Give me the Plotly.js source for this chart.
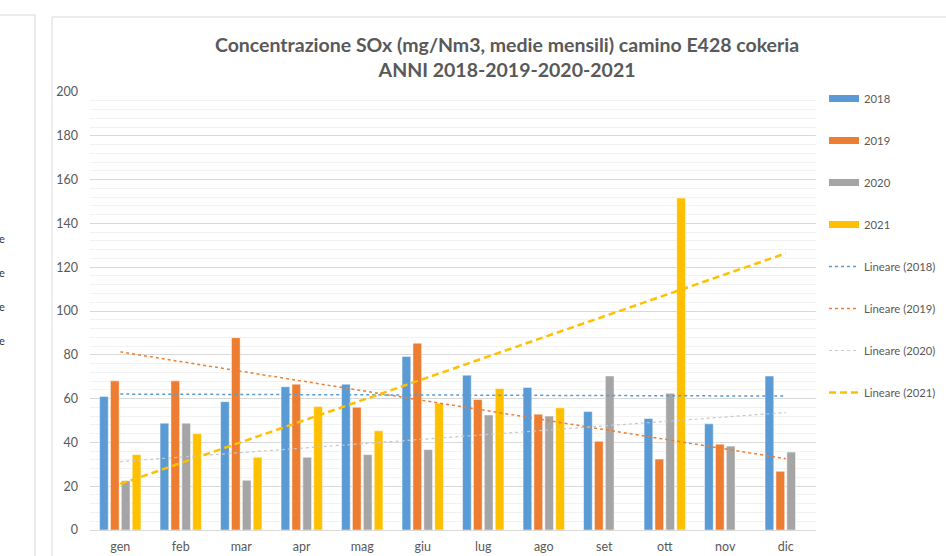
<!DOCTYPE html>
<html>
<head>
<meta charset="utf-8">
<script src="https://cdn.plot.ly/plotly-3.0.1.min.js"></script>
<style>html,body{margin:0;padding:0;background:#fff;}#chart{width:946px;height:556px;}</style>
</head>
<body>
<div id="chart"></div>
<script>
const months = ['gen','feb','mar','apr','mag','giu','lug','ago','set','ott','nov','dic'];
const years = ['2018','2019','2020','2021'];
const v2018 = [61.0,48.8,58.6,65.4,66.6,79.2,70.7,65.1,54.1,50.9,48.5,70.3];
const v2019 = [68.1,68.1,87.8,66.6,56.1,85.3,59.6,52.9,40.5,32.4,39.2,26.8];
const v2020 = [22.5,48.8,22.7,33.2,34.4,36.7,52.5,52.0,70.3,62.4,38.3,35.6];
const v2021 = [34.4,44.0,33.2,56.4,45.3,57.9,64.6,55.8,null,151.6,null,null];
const yTicks = [0,20,40,60,80,100,120,140,160,180,200];
const titleText = 'Concentrazione SOx (mg/Nm3, medie mensili) camino E428 cokeria<br>ANNI 2018-2019-2020-2021';
const sideLetters = ['e','e','e','e'];

const series = [v2018, v2019, v2020, v2021];
const colors = ['#5B9BD5','#ED7D31','#A5A5A5','#FFC000'];

// Linear trend (least squares over available points, x = month index 1..12)
function trend(vals){
  const pts = vals.map((v,i)=>[i+1,v]).filter(p=>p[1]!==null);
  const n = pts.length;
  const mx = pts.reduce((s,p)=>s+p[0],0)/n;
  const my = pts.reduce((s,p)=>s+p[1],0)/n;
  let sxy=0, sxx=0;
  pts.forEach(p=>{sxy+=(p[0]-mx)*(p[1]-my); sxx+=(p[0]-mx)*(p[0]-mx);});
  const b = sxy/sxx, a = my-b*mx;
  return months.map((m,i)=>a+b*(i+1));
}

const traces = [];
series.forEach((s,k)=>{
  traces.push({
    type:'bar', x:months, y:s, name:years[k], legendgroup:'g'+k, showlegend:false,
    marker:{color:colors[k], line:{color:'rgba(255,255,255,0.6)', width:0.8}},
    hoverinfo:'skip'
  });
  // legend entry drawn as a wide swatch, like the original
  traces.push({
    type:'scatter', mode:'lines', x:[null], y:[null], name:years[k], legendgroup:'g'+k,
    line:{color:colors[k], width:7}, hoverinfo:'skip'
  });
});
const trendStyles = [
  {color:'#5B9BD5', width:1.5, dash:'dot'},
  {color:'#ED7D31', width:1.5, dash:'dot'},
  {color:'#C8C8C8', width:1.2, dash:'dot'},
  {color:'#FFC000', width:2.5, dash:'7px,4px'}
];
series.forEach((s,k)=>{
  traces.push({
    type:'scatter', mode:'lines', x:months, y:trend(s),
    name:'Lineare ('+years[k]+')', legendgroup:'t'+k,
    line:trendStyles[k], hoverinfo:'skip'
  });
});

const L=90, R=130, T=92, B=26, W=946, H=556;
const pw = W-L-R, ph = H-T-B;
const px = x => (x-L)/pw;
const py = y => (H-B-y)/ph;
const frameCol = '#D9D9D9';
const shapes = [
  {type:'line', xref:'paper', yref:'paper', x0:px(35), x1:px(35), y0:py(15), y1:py(560), line:{color:frameCol, width:1}},
  {type:'line', xref:'paper', yref:'paper', x0:px(-5), x1:px(35), y0:py(15), y1:py(15), line:{color:frameCol, width:1}},
  {type:'line', xref:'paper', yref:'paper', x0:px(52), x1:px(52), y0:py(17), y1:py(560), line:{color:frameCol, width:1}},
  {type:'line', xref:'paper', yref:'paper', x0:px(52), x1:px(950), y0:py(17), y1:py(17), line:{color:frameCol, width:1}}
];
const annotations = sideLetters.map((t,i)=>({
  xref:'paper', yref:'paper', x:px(-3), y:py(238+34*i), xanchor:'left', yanchor:'middle',
  text:t, showarrow:false, font:{family:'Lato, sans-serif', size:11, color:'#333333'}
}));

const layout = {
  width:W, height:H,
  margin:{l:L, r:R, t:T, b:B, pad:0, autoexpand:false},
  paper_bgcolor:'#fff', plot_bgcolor:'#fff',
  font:{family:'Lato, sans-serif', color:'#595959'},
  title:{text:titleText, xref:'container', yref:'container', x:0.536, y:1-52/556, xanchor:'center', yanchor:'middle',
    font:{family:'Lato, sans-serif', size:19.5, color:'#595959', weight:'bold', lineposition:'none'}},
  barmode:'group', bargap:0.28, bargroupgap:0.2,
  xaxis:{type:'category', showline:true, linecolor:'#D9D9D9', linewidth:1, ticks:'', showgrid:false,
    tickfont:{size:12.5, color:'#595959'}, ticklabelstandoff:5, fixedrange:true},
  yaxis:{range:[0,200], tickvals:yTicks, ticktext:yTicks.map(String), showline:false, zeroline:false,
    gridcolor:'#D9D9D9', gridwidth:1, tickfont:{size:12.5, color:'#595959'}, ticks:'', ticklabelstandoff:11,
    minor:{dtick:4, tick0:0, showgrid:true, gridcolor:'#F2F2F2', gridwidth:1}},
  showlegend:true,
  legend:{xref:'container', x:824/W, xanchor:'left', yref:'container', y:1-84/H, yanchor:'top',
    traceorder:'grouped', tracegroupgap:23, itemwidth:30, maxheight:1,
    font:{size:11.3, color:'#595959'}, bgcolor:'rgba(0,0,0,0)'},
  shapes:shapes, annotations:annotations
};

Plotly.newPlot('chart', traces, layout, {displayModeBar:false, staticPlot:true});
</script>
</body>
</html>
